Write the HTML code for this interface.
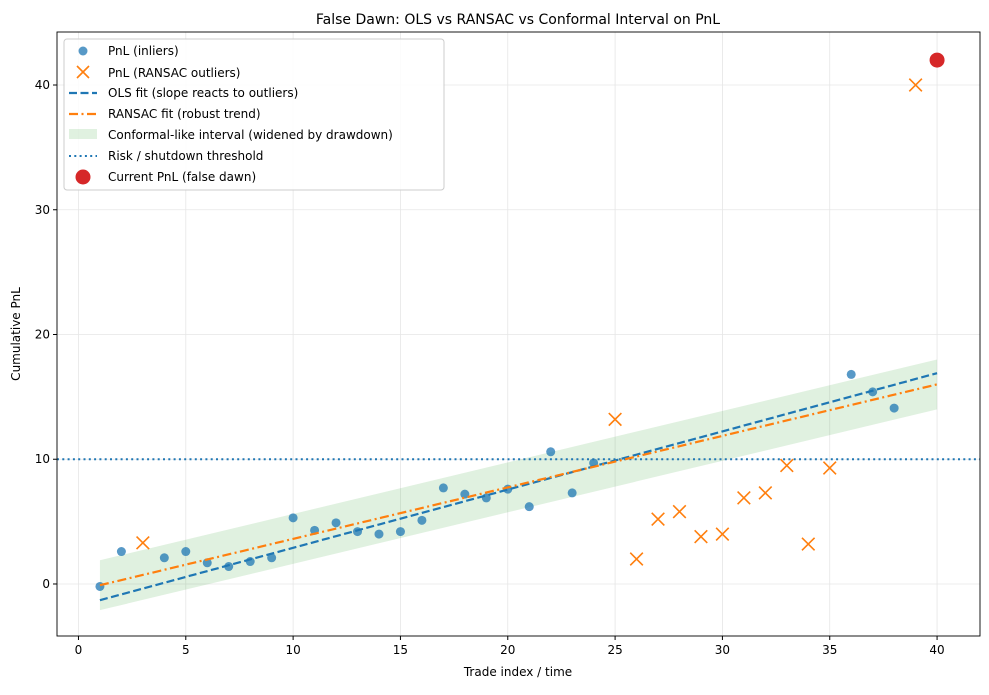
<!DOCTYPE html>
<html><head><meta charset="utf-8"><style>
body{margin:0;background:#fff;font-family:"Liberation Sans","DejaVu Sans",sans-serif}
svg text{font-family:"DejaVu Sans","Liberation Sans",sans-serif}
</style></head><body>
<svg id="chart" width="989" height="690" viewBox="0 0 989 690"></svg>
<script>
const inlierX=[1,2,4,5,6,7,8,9,10,11,12,13,14,15,16,17,18,19,20,21,22,23,24,36,37,38];
const inlierY=[-0.2,2.6,2.1,2.6,1.7,1.4,1.8,2.1,5.3,4.3,4.9,4.2,4.0,4.2,5.1,7.7,7.2,6.9,7.6,6.2,10.6,7.3,9.7,16.8,15.4,14.1];
const outlierX=[3,25,26,27,28,29,30,31,32,33,34,35,39];
const outlierY=[3.3,13.2,2.0,5.2,5.8,3.8,4.0,6.9,7.3,9.5,3.2,9.3,40];
const olsEnds=[[1,-1.3],[40,16.9]];
const ransacEnds=[[1,-0.1],[40,16.0]];
const bandHalf=2;
const threshold=10;
const current=[40,42];
const xTicks=[0,5,10,15,20,25,30,35,40];
const yTicks=[0,10,20,30,40];

const L=57,R=980,T=32,B=636,xmin=-1,xmax=42,ymin=-4.17,ymax=44.25;
const sx=v=>L+(v-xmin)/(xmax-xmin)*(R-L);
const sy=v=>B-(v-ymin)/(ymax-ymin)*(B-T);
const svg=document.getElementById('chart');const NS='http://www.w3.org/2000/svg';
function mk(tag,attrs,parent){const e=document.createElementNS(NS,tag);for(const k in attrs)e.setAttribute(k,attrs[k]);(parent||svg).appendChild(e);return e;}
xTicks.forEach(t=>{const g=mk('line',{x1:sx(t),x2:sx(t),y1:T,y2:B,stroke:'#e6e6e6','stroke-width':0.8});

const tk=mk('line',{x1:sx(t),x2:sx(t),y1:B,y2:B+4,stroke:'#000'});

const tx=mk('text',{x:sx(t),y:B+18,'text-anchor':'middle','font-size':12});tx.textContent=t;
});
yTicks.forEach(t=>{const g=mk('line',{x1:L,x2:R,y1:sy(t),y2:sy(t),stroke:'#e6e6e6','stroke-width':0.8});

const tk=mk('line',{x1:L-4,x2:L,y1:sy(t),y2:sy(t),stroke:'#000'});

const tx=mk('text',{x:L-7,y:sy(t)+4,'text-anchor':'end','font-size':12});tx.textContent=t;
});
const x0=ransacEnds[0][0],x1=ransacEnds[1][0],r0=ransacEnds[0][1],r1=ransacEnds[1][1];
const band=mk('polygon',{points:`${sx(x0)},${sy(r0+bandHalf)} ${sx(x1)},${sy(r1+bandHalf)} ${sx(x1)},${sy(r1-bandHalf)} ${sx(x0)},${sy(r0-bandHalf)}`,fill:'#2ca02c','fill-opacity':0.15});

const th=mk('line',{x1:L,x2:R,y1:sy(threshold),y2:sy(threshold),stroke:'#1f77b4','stroke-width':2,'stroke-dasharray':'2,3.3'});

inlierX.forEach((x,i)=>{const c=mk('circle',{cx:sx(x),cy:sy(inlierY[i]),r:4.5,fill:'#1f77b4','fill-opacity':0.75});
});
outlierX.forEach((x,i)=>{const cx=sx(x),cy=sy(outlierY[i]),d=6.3;
const p=mk('path',{d:`M${cx-d},${cy-d}L${cx+d},${cy+d}M${cx-d},${cy+d}L${cx+d},${cy-d}`,stroke:'#ff7f0e','stroke-width':1.6});
});
const ols=mk('line',{x1:sx(olsEnds[0][0]),y1:sy(olsEnds[0][1]),x2:sx(olsEnds[1][0]),y2:sy(olsEnds[1][1]),stroke:'#1f77b4','stroke-width':2.2,'stroke-dasharray':'8,3.5'});

const rl=mk('line',{x1:sx(x0),y1:sy(r0),x2:sx(x1),y2:sy(r1),stroke:'#ff7f0e','stroke-width':2.2,'stroke-dasharray':'9,3.5,2,3.5'});

const cur=mk('circle',{cx:sx(current[0]),cy:sy(current[1]),r:7.5,fill:'#d62728'});

const fr=mk('rect',{x:L,y:T,width:R-L,height:B-T,fill:'none',stroke:'#000','stroke-width':0.9});

</script>
<svg width="989" height="690" style="position:absolute;left:0;top:0">
<text x="518" y="24" text-anchor="middle" font-size="14">False Dawn: OLS vs RANSAC vs Conformal Interval on PnL</text>
<text x="518" y="676" text-anchor="middle" font-size="12">Trade index / time</text>
<text x="20" y="334" text-anchor="middle" font-size="12" transform="rotate(-90 20 334)">Cumulative PnL</text>
<g font-size="12">
<rect x="64" y="39" width="380" height="151" rx="3" fill="#fff" fill-opacity="0.85" stroke="#ccc"/>
<circle cx="83" cy="51" r="4.5" fill="#1f77b4" fill-opacity="0.75"/><text x="108" y="55">PnL (inliers)</text>
<path d="M77,66L89,78M77,78L89,66" stroke="#ff7f0e" stroke-width="1.6"/><text x="108" y="77">PnL (RANSAC outliers)</text>
<line x1="69" x2="97" y1="93" y2="93" stroke="#1f77b4" stroke-width="2.2" stroke-dasharray="8,3.5"/><text x="108" y="97">OLS fit (slope reacts to outliers)</text>
<line x1="69" x2="97" y1="114" y2="114" stroke="#ff7f0e" stroke-width="2.2" stroke-dasharray="9,3.5,2,3.5"/><text x="108" y="118">RANSAC fit (robust trend)</text>
<rect x="69" y="129" width="28" height="10" fill="#2ca02c" fill-opacity="0.15"/><text x="108" y="139">Conformal-like interval (widened by drawdown)</text>
<line x1="69" x2="97" y1="156" y2="156" stroke="#1f77b4" stroke-width="2" stroke-dasharray="2,3.3"/><text x="108" y="160">Risk / shutdown threshold</text>
<circle cx="83" cy="177" r="7.5" fill="#d62728"/><text x="108" y="181">Current PnL (false dawn)</text>
</g>
</svg>
</body></html>
